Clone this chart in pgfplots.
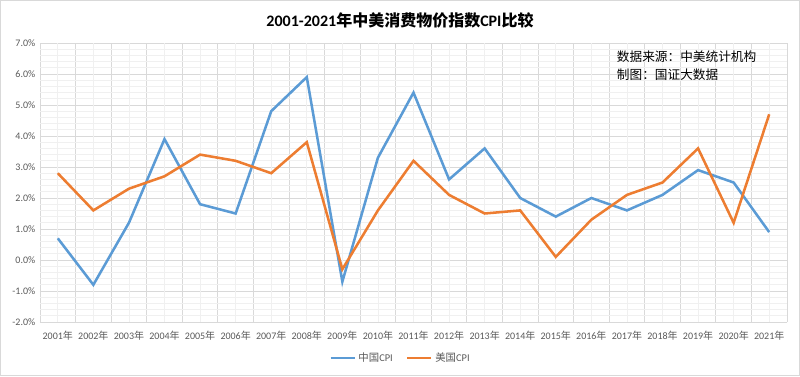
\documentclass[border=0pt]{standalone}
\usepackage{fontspec}
\setmainfont{Carlito}
\newfontfamily\cjk{Noto Sans CJK SC}
\usepackage{pgfplots}
\pgfplotsset{compat=1.18}
\definecolor{cnblue}{HTML}{5B9BD5}
\definecolor{usorange}{HTML}{ED7D31}
\definecolor{txtgray}{HTML}{595959}
\definecolor{gmaj}{HTML}{D9D9D9}
\definecolor{gmin}{HTML}{F0F0F0}
\newcommand\nian{{\cjk 年}}
\begin{document}
\begin{tikzpicture}
\useasboundingbox (-30pt,-40.5pt) rectangle ++(600pt,282pt);
\draw[gmaj, line width=0.75pt] (-29.4pt,-39.9pt) rectangle ++(598.8pt,280.8pt);
\begin{axis}[at={(0,0)}, anchor=south west, scale only axis,
  width=560.25pt, height=209.25pt,
  xmin=-0.5, xmax=20.5, ymin=-2, ymax=7,
  xtick={-0.5,0.5,...,20.5}, xticklabels={},
  extra x ticks={0,1,...,20},
  extra x tick labels={2001\nian,2002\nian,2003\nian,2004\nian,2005\nian,2006\nian,2007\nian,2008\nian,2009\nian,2010\nian,2011\nian,2012\nian,2013\nian,2014\nian,2015\nian,2016\nian,2017\nian,2018\nian,2019\nian,2020\nian,2021\nian},
  extra x tick style={grid=major, major grid style={gmin, line width=0.5pt}},
  ytick={-2,-1,...,7},
  minor y tick num=4,
  xmajorgrids, ymajorgrids, yminorgrids,
  major grid style={gmaj, line width=0.6pt},
  minor grid style={gmin, line width=0.5pt},
  major tick length=0pt, minor tick length=0pt,
  axis line style={draw=none},
  yticklabel={\pgfmathprintnumber[fixed,fixed zerofill,precision=1]{\tick}\%},
  /pgf/number format/assume math mode=true,
  tick label style={font=\fontsize{7.5}{9}\selectfont, text=txtgray},
  xticklabel style={yshift=-3pt},
  legend style={at={(0.483,-0.129)}, anchor=center, draw=none, fill=none,
    legend columns=2, font=\fontsize{7.8}{9}\selectfont, text=txtgray,
    /tikz/every even column/.append style={column sep=8pt}},
  legend image code/.code={\draw[#1, line width=1.9pt] (0pt,0pt) -- (18pt,0pt);},
]
\addplot[cnblue, line width=1.9pt] coordinates {
(0,0.7) (1,-0.8) (2,1.2) (3,3.9) (4,1.8) (5,1.5) (6,4.8) (7,5.9) (8,-0.7) (9,3.3)
(10,5.4) (11,2.6) (12,3.6) (13,2.0) (14,1.4) (15,2.0) (16,1.6) (17,2.1) (18,2.9) (19,2.5) (20,0.9)};
\addlegendentry{{\cjk 中国}CPI}
\addplot[usorange, line width=1.9pt] coordinates {
(0,2.8) (1,1.6) (2,2.3) (3,2.7) (4,3.4) (5,3.2) (6,2.8) (7,3.8) (8,-0.3) (9,1.6)
(10,3.2) (11,2.1) (12,1.5) (13,1.6) (14,0.1) (15,1.3) (16,2.1) (17,2.5) (18,3.6) (19,1.2) (20,4.7)};
\addlegendentry{{\cjk 美国}CPI}
\node[anchor=north west, align=left, font=\cjk\fontsize{9.5}{13.5}\selectfont, inner sep=0pt]
  at (rel axis cs:0.772,0.972) {数据来源：中美统计机构\\制图：国证大数据};
\end{axis}
\node[font=\fontsize{12}{14}\selectfont\bfseries] at (270pt,226.5pt)
  {2001-2021{\cjk 年中美消费物价指数}CPI{\cjk 比较}};
\end{tikzpicture}
\end{document}
